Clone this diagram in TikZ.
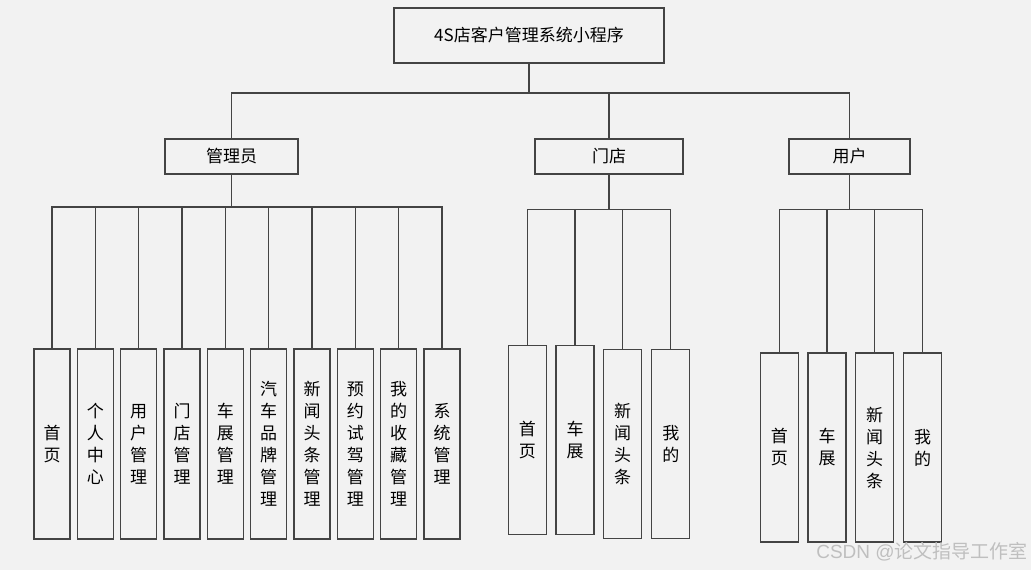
\documentclass[tikz,border=0pt]{standalone}
\usepackage{fontspec}
\setmainfont{Liberation Sans}
\newfontfamily\cjk{Noto Sans CJK SC}
\definecolor{bgcol}{HTML}{F2F2F2}
\definecolor{edgecol}{HTML}{444444}
\begin{document}
\begin{tikzpicture}[x=1pt,y=-1pt,font=\cjk\fontsize{17}{22}\selectfont]
\fill[bgcol] (0,0) rectangle (1031,570);
\useasboundingbox (0,0) rectangle (1031,570);

\tikzset{
  box/.style={draw=edgecol,fill=bgcol,line width=1.2pt,inner sep=0pt,align=center},
  leaf/.style={box,minimum width=36,minimum height=190},
  wideleaf/.style={box,minimum width=38,minimum height=189},
  link/.style={edgecol,line width=1.2pt}
}

% Root and the three roles.
\node[box,minimum width=270,minimum height=55] (root) at (529,35.5) {4S店客户管理系统小程序};
\node[box,minimum width=133,minimum height=35] (admin) at (231.5,156.5) {管理员};
\node[box,minimum width=148,minimum height=35] (store) at (609,156.5) {门店};
\node[box,minimum width=121,minimum height=35] (user) at (849.5,156.5) {用户};

\coordinate (rbus) at (529,93);
\foreach \n in {admin,store,user}
  \draw[link] (root.south) -- (rbus) -| (\n.north);

% Administrator functions.
\coordinate (abus) at (231.5,207);
\foreach \x/\lab [count=\i] in {52/{首\\页},95.3/{个\\人\\中\\心},138.7/{用\\户\\管\\理},182/{门\\店\\管\\理},
    225.3/{车\\展\\管\\理},268.7/{汽\\车\\品\\牌\\管\\理},312/{新\\闻\\头\\条\\管\\理},
    355.3/{预\\约\\试\\驾\\管\\理},398.7/{我\\的\\收\\藏\\管\\理},442/{系\\统\\管\\理}}{
  \node[leaf] (a\i) at (\x,444) {\lab};
  \draw[link] (admin.south) -- (abus) -| (a\i.north);
}

% Store functions.
\coordinate (sbus) at (609,209.5);
\foreach \x/\y/\lab [count=\i] in {527.3/440/{首\\页},575/440/{车\\展},622.7/443.7/{新\\闻\\头\\条},670.8/443.7/{我\\的}}{
  \node[wideleaf] (s\i) at (\x,\y) {\lab};
  \draw[link] (store.south) -- (sbus) -| (s\i.north);
}

% User functions.
\coordinate (ubus) at (849.5,209.5);
\foreach \x/\lab [count=\i] in {779.3/{首\\页},827/{车\\展},874.7/{新\\闻\\头\\条},922.7/{我\\的}}{
  \node[wideleaf] (u\i) at (\x,447.5) {\lab};
  \draw[link] (user.south) -- (ubus) -| (u\i.north);
}

\node[text=black!25,font=\fontsize{19}{19}\selectfont] (mark) at (922,552) {CSDN @\cjk 论文指导工作室};
\end{tikzpicture}
\end{document}
